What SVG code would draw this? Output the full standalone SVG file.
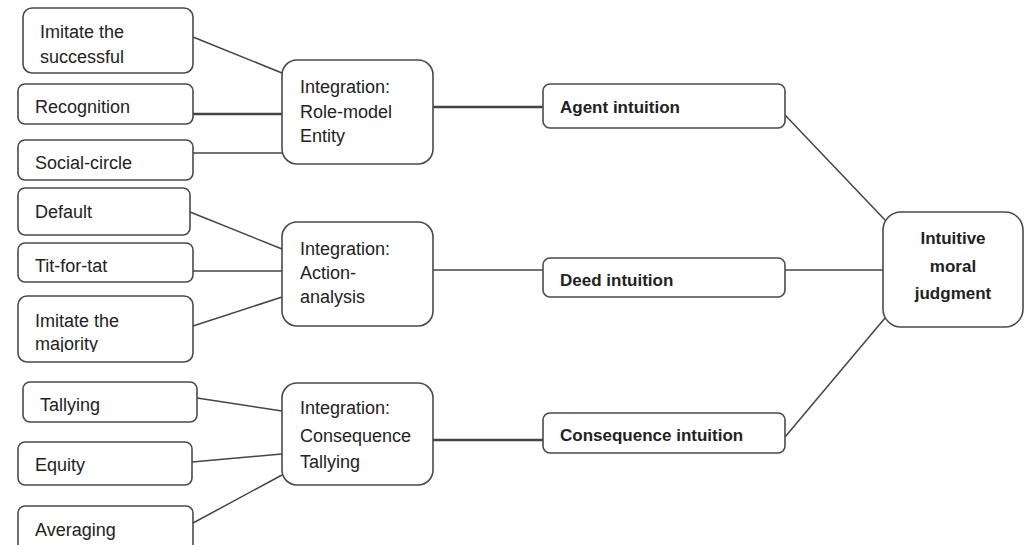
<svg xmlns="http://www.w3.org/2000/svg" width="1026" height="545" viewBox="0 0 1026 545">
<style>
.box{fill:#fff;stroke:#4a4a4a;stroke-width:1.6}
.t{font-family:"Liberation Sans",Arial,sans-serif;font-size:18px;fill:#222}
.b{font-weight:bold;font-size:17px}
.c{stroke:#444;stroke-width:1.5;fill:none}
.thick{stroke-width:2.4}
</style>
<defs>
<clipPath id="clipMaj"><rect x="18" y="296" width="175" height="56"/></clipPath>
</defs>
<rect width="1026" height="545" fill="#fff"/>
<g id="connectors">
<line class="c" x1="193" y1="37" x2="282" y2="73"/>
<line class="c thick" x1="193" y1="114" x2="282" y2="114"/>
<line class="c" x1="193" y1="153" x2="282" y2="153"/>
<line class="c" x1="190" y1="212" x2="282" y2="249"/>
<line class="c" x1="193" y1="271" x2="282" y2="271"/>
<line class="c" x1="193" y1="326" x2="282" y2="297"/>
<line class="c" x1="197" y1="398" x2="282" y2="411"/>
<line class="c" x1="192" y1="462" x2="282" y2="454"/>
<line class="c" x1="193" y1="523" x2="282" y2="475"/>
<line class="c thick" x1="433" y1="107" x2="543" y2="107"/>
<line class="c" x1="433" y1="270" x2="543" y2="270"/>
<line class="c thick" x1="433" y1="440" x2="543" y2="440"/>
<line class="c" x1="785" y1="115" x2="885" y2="220"/>
<line class="c" x1="785" y1="270" x2="883" y2="270"/>
<line class="c" x1="785" y1="437" x2="885" y2="318"/>
</g>
<g id="imitate-successful"><rect class="box" x="23" y="8" width="170" height="65" rx="9"/><text class="t" x="40" y="38">Imitate the</text><text class="t" x="40" y="63">successful</text></g>
<g id="recognition"><rect class="box" x="18" y="84" width="175" height="40" rx="7"/><text class="t" x="35" y="113">Recognition</text></g>
<g id="social-circle"><rect class="box" x="18" y="140" width="175" height="40" rx="7"/><text class="t" x="35" y="169">Social-circle</text></g>
<g id="default"><rect class="box" x="18" y="188" width="172" height="47" rx="7"/><text class="t" x="35" y="218">Default</text></g>
<g id="tit-for-tat"><rect class="box" x="18" y="243" width="175" height="39" rx="7"/><text class="t" x="35" y="272">Tit-for-tat</text></g>
<g id="imitate-majority"><rect class="box" x="18" y="296" width="175" height="66" rx="9"/><text class="t" x="35" y="327">Imitate the</text><text class="t" x="35" y="350" clip-path="url(#clipMaj)">majority</text></g>
<g id="tallying"><rect class="box" x="23" y="382" width="174" height="40" rx="7"/><text class="t" x="40" y="411">Tallying</text></g>
<g id="equity"><rect class="box" x="18" y="442" width="174" height="43" rx="7"/><text class="t" x="35" y="471">Equity</text></g>
<g id="averaging"><rect class="box" x="18" y="506" width="175" height="45" rx="7"/><text class="t" x="35" y="536">Averaging</text></g>
<g id="integration-role"><rect class="box" x="282" y="60" width="151" height="104" rx="15"/><text class="t" x="300" y="93">Integration:</text><text class="t" x="300" y="118">Role-model</text><text class="t" x="300" y="142">Entity</text></g>
<g id="integration-action"><rect class="box" x="282" y="222" width="151" height="104" rx="15"/><text class="t" x="300" y="255">Integration:</text><text class="t" x="300" y="279">Action-</text><text class="t" x="300" y="303">analysis</text></g>
<g id="integration-consequence"><rect class="box" x="282" y="383" width="151" height="102" rx="15"/><text class="t" x="300" y="414">Integration:</text><text class="t" x="300" y="442">Consequence</text><text class="t" x="300" y="468">Tallying</text></g>
<g id="agent-intuition"><rect class="box" x="543" y="84" width="242" height="44" rx="7"/><text class="t b" x="560" y="113">Agent intuition</text></g>
<g id="deed-intuition"><rect class="box" x="543" y="258" width="242" height="39" rx="7"/><text class="t b" x="560" y="286">Deed intuition</text></g>
<g id="consequence-intuition"><rect class="box" x="543" y="413" width="242" height="40" rx="7"/><text class="t b" x="560" y="441">Consequence intuition</text></g>
<g id="intuitive-moral-judgment"><rect class="box" x="883" y="212" width="140" height="115" rx="18"/><text class="t b" x="953" y="244" text-anchor="middle">Intuitive</text><text class="t b" x="953" y="272" text-anchor="middle">moral</text><text class="t b" x="953" y="299" text-anchor="middle">judgment</text></g>
</svg>
